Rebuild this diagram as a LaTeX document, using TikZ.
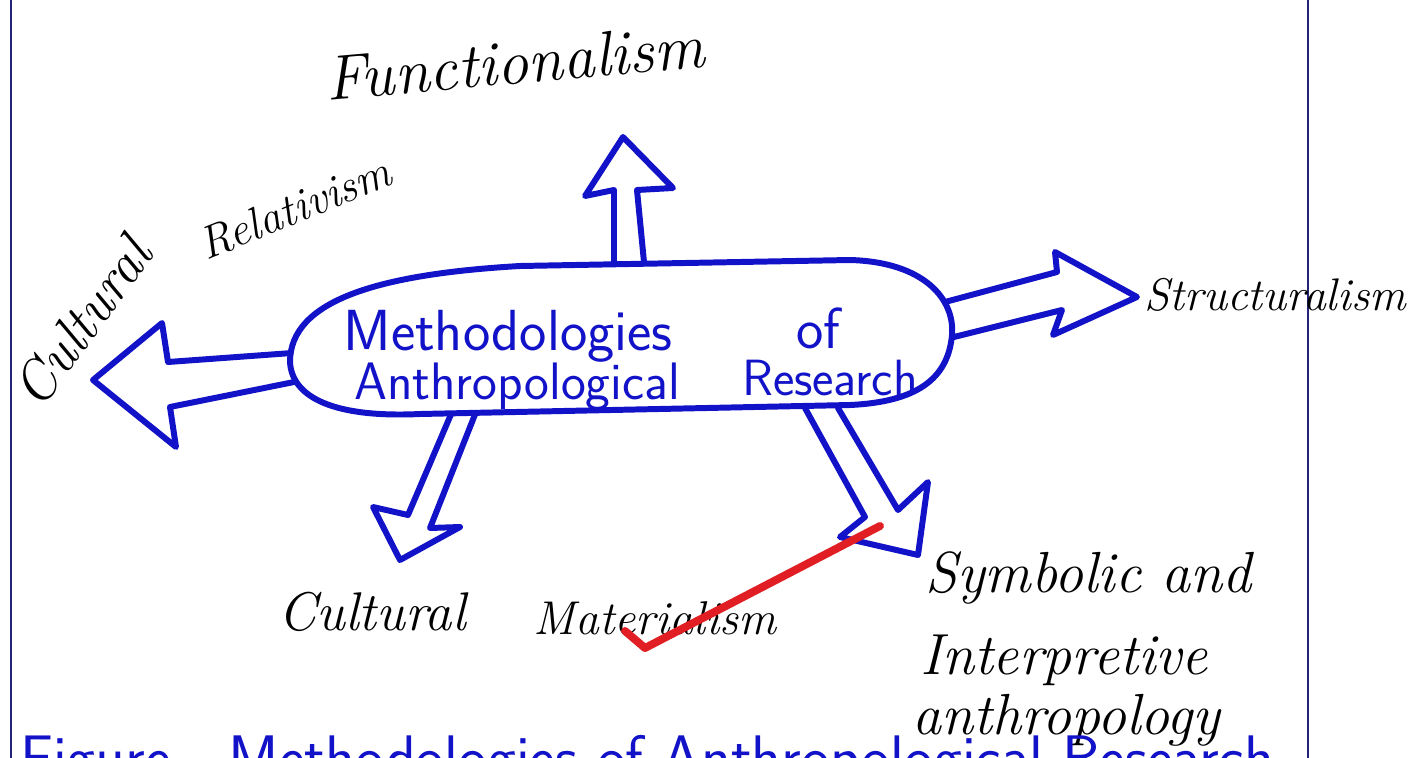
\documentclass[tikz,border=0pt]{standalone}
\usepackage{fontspec}
\definecolor{pen}{RGB}{18,18,200}
\definecolor{navy}{RGB}{35,35,120}
\definecolor{redpen}{RGB}{225,30,35}
\begin{document}
\begin{tikzpicture}[x=0.02cm,y=-0.02cm,
  blockarrow/.style={draw=pen,line width=3.4pt,line join=round,line cap=round,fill=white},
  rim/.style={draw=navy,line width=1.3pt},
  hand/.style={text=black,font=\itshape\fontsize{#1}{#1}\selectfont,inner sep=0pt},
  bluetext/.style={text=pen,font=\sffamily\fontsize{#1}{#1}\selectfont,inner sep=0pt}]
\useasboundingbox (0,0) rectangle (1418,758);
\clip (0,0) rectangle (1418,758);
\fill[white] (0,0) rectangle (1418,758);
% frame
\draw[rim] (11,0) -- (11,758);
\draw[rim] (1308,0) -- (1308,758);
% arrows
\draw[blockarrow] (614,262) -- (614,190) -- (585,196) -- (623,137) -- (673,188) -- (637,190) -- (644,262);
\draw[blockarrow] (945,302) -- (1057,272) -- (1055,252) -- (1137,297) -- (1053,335) -- (1062,310) -- (950,338);
\draw[blockarrow] (292,353) -- (168,362) -- (162,323) -- (93,380) -- (176,447) -- (170,407) -- (294,382);
\draw[blockarrow] (452,412) -- (408,515) -- (373,507) -- (400,560) -- (460,527) -- (430,528) -- (476,412);
\draw[blockarrow] (805,408) -- (865,517) -- (840,537) -- (918,555) -- (928,482) -- (898,510) -- (838,408);
% central oval
\draw[blockarrow] (290,362) .. controls (290,300) and (380,274) .. (520,266) -- (850,260)
  .. controls (925,262) and (955,300) .. (952,335) .. controls (948,380) and (915,402) .. (850,405)
  -- (420,414) .. controls (335,418) and (292,398) .. (290,362) -- cycle;
\node[bluetext=33] (m1) at (508,336) {Methodologies};
\node[bluetext=33] (m2) at (818,328) {of};
\node[bluetext=30] (m3) at (517,387) {Anthropological};
\node[bluetext=29] (m4) at (830,378) {Research};
% labels
\node[hand=36,rotate=5] (fun) at (515,62) {Functionalism};
\node[hand=26] (str) at (1275,295) {Structuralism};
\node[hand=32,rotate=54] (cr1) at (82,322) {Cultural};
\node[hand=26,rotate=22] (cr2) at (295,208) {Relativism};
\node[hand=31] (cm1) at (372,612) {Cultural};
\node[hand=27] (cm2) at (655,618) {Materialism};
\node[hand=33,anchor=west] (sy1) at (925,578) {Symbolic and};
\node[hand=33,anchor=west] (sy2) at (920,660) {Interpretive};
\node[hand=33,anchor=west] (sy3) at (912,720) {anthropology};
% caption (cut off at the bottom)
\node[bluetext=35,anchor=base west] (cap) at (20,778) {Figure - Methodologies of Anthropological Research};
% red stroke
\draw[redpen,line width=4.5pt,line cap=round,line join=round] (625,631) -- (645,648) -- (880,526);
\end{tikzpicture}
\end{document}
